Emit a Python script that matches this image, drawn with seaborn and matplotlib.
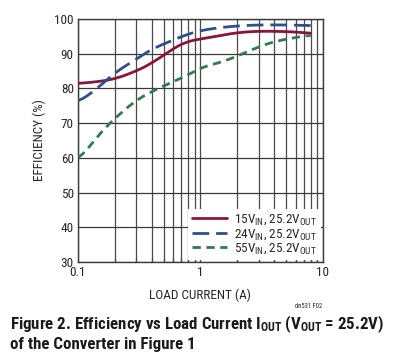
import numpy as np
import pandas as pd
import seaborn as sns
import matplotlib.pyplot as plt

# ------------------- Data -------------------
i_15v = [0.1, 0.15, 0.2, 0.3, 0.4, 0.5, 0.6, 0.7, 0.8, 1.0, 1.5, 2, 3, 5, 7, 8]
eff_15v = [81.4, 82.0, 82.7, 85.0, 87.2, 89.6, 91.4, 92.9, 93.7, 94.2, 95.3, 96.1, 96.5, 96.4, 96.1, 95.8]

i_24v = [0.1, 0.15, 0.2, 0.3, 0.4, 0.5, 0.6, 0.8, 1.0, 1.5, 2, 3, 5, 8]
eff_24v = [75.9, 80.5, 84.6, 88.4, 91.4, 92.7, 94.0, 95.7, 96.7, 97.6, 98.0, 98.3, 98.3, 98.1]

i_55v = [0.1, 0.15, 0.2, 0.3, 0.4, 0.5, 0.6, 0.8, 1.0, 1.5, 2, 3, 4, 6, 8]
eff_55v = [59.1, 67.0, 71.4, 76.7, 79.1, 80.7, 81.9, 83.9, 86.0, 87.6, 89.3, 92.0, 93.5, 94.7, 95.4]

labels = [r"15V$_{\mathrm{IN}}$, 25.2V$_{\mathrm{OUT}}$",
          r"24V$_{\mathrm{IN}}$, 25.2V$_{\mathrm{OUT}}$",
          r"55V$_{\mathrm{IN}}$, 25.2V$_{\mathrm{OUT}}$"]
colors = ["#8a1538", "#2e4f8f", "#2f7d4c"]
dashes = [None, (6, 2.5), (3, 2)]

x_grid = [0.1, 0.2, 0.3, 0.4, 0.5, 0.6, 0.7, 0.8, 0.9, 1, 2, 3, 4, 5, 6, 7, 8, 9, 10]
y_grid = [30, 40, 50, 60, 70, 80, 90, 100]

# ------------------- Style -------------------
sns.set_style("white")
font = "Roboto Condensed"
plt.rcParams['font.family'] = [font, 'Liberation Sans', 'DejaVu Sans']
plt.rcParams['mathtext.fontset'] = 'custom'
plt.rcParams['mathtext.rm'] = font
plt.rcParams['mathtext.it'] = font
plt.rcParams['mathtext.bf'] = font + ':bold'

fig = plt.figure(figsize=(3.95, 3.59), dpi=100)
ax = fig.add_axes([78/395, 1 - 262/359, (322.7 - 78)/395, (262 - 19)/359])

df = pd.concat([
    pd.DataFrame({"I": i_15v, "eff": eff_15v, "s": labels[0]}),
    pd.DataFrame({"I": i_24v, "eff": eff_24v, "s": labels[1]}),
    pd.DataFrame({"I": i_55v, "eff": eff_55v, "s": labels[2]}),
])

# grid drawn by hand so the legend box can hide it but not the ticks
for xv in x_grid:
    ax.axvline(xv, color="#4a4a4a", lw=0.9, zorder=1)
for yv in y_grid:
    ax.axhline(yv, color="#3a3a3a", lw=0.9, zorder=1)

for lab, col, d in zip(labels, colors, dashes):
    sub = df[df["s"] == lab]
    # smooth on the log axis for the look of the original curves
    lx = np.log10(sub["I"].values)
    xs = np.linspace(lx.min(), lx.max(), 200)
    ys = np.interp(xs, lx, sub["eff"].values)
    k = 9
    ys_s = np.convolve(np.pad(ys, k, mode='edge'), np.ones(2*k+1)/(2*k+1), mode='same')[k:-k]
    line, = ax.plot(10**xs, ys_s, color=col, lw=2.0, label=lab, zorder=3)
    if d is not None:
        line.set_dashes(d)

ax.set_xscale("log")
ax.set_xlim(0.1, 10)
ax.set_ylim(30, 100)
ax.set_yticks(y_grid)
ax.set_xticks([0.1, 1, 10])
ax.set_xticklabels(["0.1", "1", "10"])
ax.grid(False)
ax.tick_params(axis="both", which="major", labelsize=9.5, length=0, pad=3)
ax.tick_params(axis="x", which="minor", direction="in", length=3, bottom=True,
               color="#333333", width=0.9)
for s in ax.spines.values():
    s.set_color("#3a3a3a")
    s.set_linewidth(1.0)

ax.set_xlabel("LOAD CURRENT (A)", fontsize=9.5, labelpad=7)
ax.set_ylabel("EFFICIENCY (%)", fontsize=9.5, labelpad=6)

leg = ax.legend(loc="lower right", fontsize=9.5, frameon=True, facecolor="white",
                edgecolor="white", framealpha=1, fancybox=False, handlelength=2.7,
                handletextpad=0.5, labelspacing=0.0, borderaxespad=0.15,
                borderpad=0.3)
leg.set_zorder(2)
leg.get_frame().set_linewidth(0)

fig.text(322/395, 1 - 306/359, "dn531 F02", fontsize=4.8, ha="right", va="center")
fig.text(10/395, 1 - 324/359,
         r"Figure 2. Efficiency vs Load Current I$_{\mathbf{OUT}}$ (V$_{\mathbf{OUT}}$ = 25.2V)",
         fontsize=12.2, fontweight="bold", ha="left", va="center", color="#1a1a1a")
fig.text(10/395, 1 - 344/359, "of the Converter in Figure 1",
         fontsize=12.2, fontweight="bold", ha="left", va="center", color="#1a1a1a")

fig.savefig("out.png", dpi=100)
